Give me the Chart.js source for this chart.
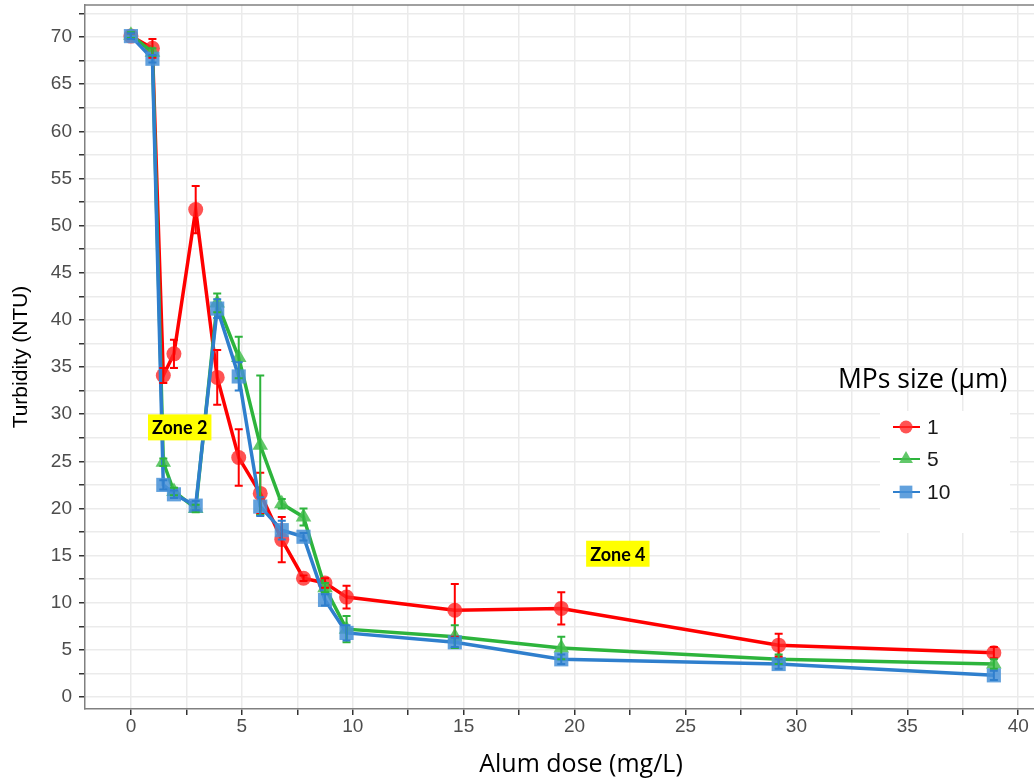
<!DOCTYPE html>
<html><head><meta charset="utf-8"><title>Turbidity vs alum dose</title>
<script src="https://cdn.jsdelivr.net/npm/chart.js"></script>
<style>
  body { margin: 0; background: #fff; }
</style>
</head>
<body>
<canvas id="turbChart" width="1034" height="782"></canvas>
<script>
// alum dose (mg/L) shared by all three series
const doses = [0, 0.97, 1.46, 1.94, 2.92, 3.89, 4.86, 5.83, 6.8, 7.78, 8.75, 9.72, 14.6, 19.4, 29.2, 38.9];

// turbidity (NTU) and +/- error per MP size
const turb1  = [70.1, 68.8, 34.1, 36.4, 51.7, 33.9, 25.4, 21.6, 16.7, 12.6, 12.1, 10.6, 9.2, 9.4, 5.5, 4.7];
const err1   = [0.3, 1.0, 0.8, 1.5, 2.5, 2.9, 3.0, 2.2, 2.4, 0.3, 0.5, 1.2, 2.8, 1.7, 1.2, 0.6];
const turb5  = [70.2, 68.4, 24.9, 21.8, 20.0, 41.8, 36.0, 26.7, 20.5, 19.1, 11.6, 7.2, 6.4, 5.2, 4.0, 3.5];
const err5   = [0.3, 0.4, 0.4, 0.4, 0.4, 1.0, 2.2, 7.4, 0.5, 0.9, 0.5, 1.4, 1.2, 1.2, 0.5, 0.5];
const turb10 = [70.1, 67.7, 22.5, 21.5, 20.3, 41.2, 34.0, 20.2, 17.7, 17.0, 10.3, 6.8, 5.8, 4.0, 3.5, 2.3];
const err10  = [0.3, 0.4, 0.5, 0.4, 0.5, 1.0, 1.5, 1.0, 1.0, 0.4, 0.6, 0.8, 0.5, 0.5, 0.5, 0.5];

const sizeLabels = ['1', '5', '10'];
const zoneNotes = [
  { text: 'Zone 2', x: 2.2, y: 28.6 },
  { text: 'Zone 4', x: 21.95, y: 15.2 }
];

const RED = '#ff0000', GREEN = '#2db43c', BLUE = '#2f7fcd';
const tickFont = { family: 'Liberation Sans', size: 19 };
const noteFamily = 'Open Sans';

function series(label, ys, errs, color, fill, style, radius, order) {
  return {
    label,
    data: doses.map((d, i) => ({ x: d, y: ys[i] })),
    errors: errs,
    borderColor: color,
    backgroundColor: fill,
    borderWidth: 3.5,
    pointStyle: style,
    pointRadius: radius,
    pointHoverRadius: radius,
    pointBorderWidth: 0,
    pointBackgroundColor: fill,
    tension: 0,
    order
  };
}

// keep only ticks on the 2.5 grid
function onGrid(scale) {
  scale.ticks = scale.ticks.filter(t => Math.abs(t.value / 2.5 - Math.round(t.value / 2.5)) < 1e-6);
}
function everyFifth(v) {
  return Math.abs(v % 5) < 1e-6 ? String(Math.round(v)) : '';
}

const errorBars = {
  id: 'errorBars',
  afterDatasetsDraw(chart) {
    const { ctx, scales: { x, y } } = chart;
    chart.data.datasets.forEach(ds => {
      ctx.save();
      ctx.strokeStyle = ds.borderColor;
      ctx.lineWidth = 2;
      ds.data.forEach((p, i) => {
        const e = ds.errors[i];
        if (!e) return;
        const px = x.getPixelForValue(p.x);
        const hi = y.getPixelForValue(p.y + e);
        const lo = y.getPixelForValue(p.y - e);
        ctx.beginPath();
        ctx.moveTo(px, hi); ctx.lineTo(px, lo);
        ctx.moveTo(px - 4, hi); ctx.lineTo(px + 4, hi);
        ctx.moveTo(px - 4, lo); ctx.lineTo(px + 4, lo);
        ctx.stroke();
      });
      ctx.restore();
    });
  }
};

const decorations = {
  id: 'decorations',
  afterDraw(chart) {
    const { ctx, chartArea: a, scales: { x, y } } = chart;
    ctx.save();

    // panel border on the top
    ctx.strokeStyle = '#808080';
    ctx.lineWidth = 1.5;
    ctx.beginPath();
    ctx.moveTo(a.left, a.top); ctx.lineTo(a.right, a.top);
    ctx.stroke();

    // zone notes
    ctx.font = 'bold 18px Lato';
    ctx.textAlign = 'center';
    ctx.textBaseline = 'middle';
    zoneNotes.forEach(z => {
      const cx = x.getPixelForValue(z.x), cy = y.getPixelForValue(z.y);
      const w = ctx.measureText(z.text).width + 8;
      ctx.fillStyle = '#ffff00';
      ctx.fillRect(cx - w / 2, cy - 13, w, 26);
      ctx.fillStyle = '#000';
      ctx.fillText(z.text, cx, cy + 1);
    });

    // x axis title
    ctx.font = '25px ' + noteFamily;
    ctx.fillStyle = '#000';
    ctx.fillText('Alum dose (mg/L)', 581, 765);

    // legend
    ctx.textAlign = 'left';
    ctx.font = '26.5px ' + noteFamily;
    ctx.fillText('MPs size (\u00b5m)', 838, 380);
    ctx.fillStyle = '#fff';
    ctx.fillRect(880, 411, 130, 122);
    ctx.font = '21px Liberation Sans';
    const rows = [427, 459, 492];
    chart.data.datasets.forEach((ds, i) => {
      const ly = rows[i];
      ctx.strokeStyle = ds.borderColor;
      ctx.lineWidth = 2;
      ctx.beginPath(); ctx.moveTo(893, ly); ctx.lineTo(920, ly); ctx.stroke();
      ctx.fillStyle = ds.pointBackgroundColor;
      Chart.helpers.drawPoint(ctx, { pointStyle: ds.pointStyle, radius: ds.pointRadius - 1, rotation: 0, borderWidth: 0 }, 906, ly);
      ctx.fillStyle = '#1a1a1a';
      ctx.fillText(sizeLabels[i], 927, ly + 1);
    });
    ctx.restore();
  }
};

new Chart(document.getElementById('turbChart'), {
  type: 'line',
  data: {
    datasets: [
      series('1', turb1, err1, RED, 'rgba(255,40,40,0.8)', 'circle', 7.5, 3),
      series('5', turb5, err5, GREEN, 'rgba(70,190,80,0.85)', 'triangle', 9, 2),
      series('10', turb10, err10, BLUE, 'rgba(70,145,215,0.85)', 'rect', 10, 1)
    ]
  },
  options: {
    responsive: false,
    devicePixelRatio: 1,
    animation: false,
    layout: { autoPadding: false, padding: { top: 5, right: 0, left: 0, bottom: 0 } },
    plugins: { legend: { display: false }, tooltip: { enabled: false } },
    scales: {
      x: {
        type: 'linear',
        min: -2.07, max: 40.71,
        afterBuildTicks: onGrid,
        afterFit: s => { s.height = 73; s.paddingLeft = 0; s.paddingRight = 0; },
        ticks: { stepSize: 2.5, includeBounds: false, autoSkip: false, maxRotation: 0, callback: everyFifth, font: tickFont, color: '#4d4d4d', padding: 0 },
        grid: { color: '#ebebeb', lineWidth: 1.5, tickColor: '#333', tickLength: 6 },
        border: { color: '#808080', width: 1.5 }
      },
      y: {
        type: 'linear',
        min: -1.27, max: 73.4,
        afterBuildTicks: onGrid,
        afterFit: s => { s.width = 85; s.paddingTop = 0; s.paddingBottom = 0; },
        ticks: { stepSize: 2.5, includeBounds: false, autoSkip: false, callback: everyFifth, font: tickFont, color: '#4d4d4d', padding: 7 },
        grid: { color: '#ebebeb', lineWidth: 1.5, tickColor: '#333', tickLength: 6 },
        border: { color: '#808080', width: 1.5 },
        title: { display: true, text: 'Turbidity (NTU)', color: '#000', font: { family: 'Liberation Sans', size: 21 }, padding: { top: 9, bottom: 0 } }
      }
    }
  },
  plugins: [errorBars, decorations]
});
</script>
</body></html>
